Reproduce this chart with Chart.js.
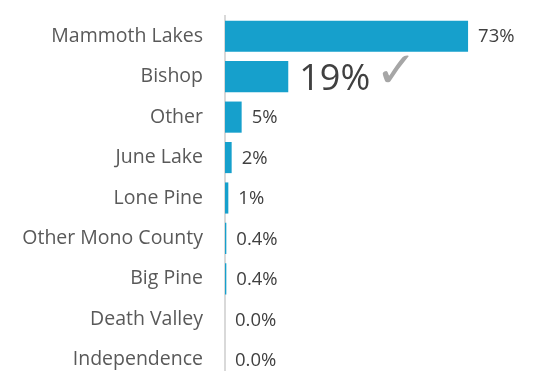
<!DOCTYPE html>
<html>
<head>
<meta charset="utf-8">
<script src="https://cdn.jsdelivr.net/npm/chart.js@4"></script>
<style>
  html, body { margin: 0; padding: 0; background: #fff; overflow: hidden; }
  canvas { display: block; }
</style>
</head>
<body>
<canvas id="chart" width="533" height="381"></canvas>
<script>
// data
var places = ['Mammoth Lakes', 'Bishop', 'Other', 'June Lake', 'Lone Pine',
              'Other Mono County', 'Big Pine', 'Death Valley', 'Independence'];
var shares = [73, 19, 5, 2, 1, 0.4, 0.4, 0, 0];
var shareLabels = ['73%', '19%', '5%', '2%', '1%', '0.4%', '0.4%', '0.0%', '0.0%'];
var highlightIndex = 1; // the big "19%" with a tick

// value labels at the bar ends
var valueLabels = {
    id: 'valueLabels',
    afterDatasetsDraw: function (chart) {
        var ctx = chart.ctx;
        var bars = chart.getDatasetMeta(0).data;
        ctx.save();
        ctx.textBaseline = 'middle';
        ctx.textAlign = 'left';
        bars.forEach(function (bar, i) {
            var x = bar.x + 10;
            if (i === highlightIndex) {
                ctx.font = '36px "Open Sans"';
                ctx.fillStyle = '#404040';
                ctx.fillText(shareLabels[i], x + 1, bar.y + 3);
                var w = ctx.measureText(shareLabels[i]).width;
                ctx.font = 'bold 50px "DejaVu Sans"';
                ctx.fillStyle = '#a6a6a6';
                ctx.fillText('\u2713', x + w + 6, bar.y - 3);
            } else {
                ctx.font = '18.5px "Open Sans"';
                ctx.fillStyle = '#404040';
                ctx.fillText(shareLabels[i], x, bar.y + 1);
            }
        });
        ctx.restore();
    }
};

var ctx = document.getElementById('chart').getContext('2d');
var chart = new Chart(ctx, {
    type: 'bar',
    data: {
        labels: places,
        datasets: [{
            data: shares,
            backgroundColor: '#16a0cc',
            borderWidth: 0,
            barPercentage: 0.77,
            categoryPercentage: 1
        }]
    },
    options: {
        indexAxis: 'y',
        responsive: false,
        animation: false,
        layout: { padding: { top: 16, bottom: 1, left: 0, right: 0 } },
        plugins: {
            legend: { display: false },
            tooltip: { enabled: false }
        },
        scales: {
            x: {
                display: false,
                min: 0,
                max: 92.5
            },
            y: {
                grid: { display: false },
                border: { display: true, color: '#d9d9d9', width: 2 },
                ticks: {
                    color: '#595959',
                    padding: 14,
                    font: { family: 'Open Sans', size: 19.5 }
                },
                afterFit: function (scale) {
                    scale.width = 225;
                    scale.paddingTop = 0;
                    scale.paddingBottom = 0;
                }
            }
        }
    },
    plugins: [valueLabels]
});
</script>
</body>
</html>
